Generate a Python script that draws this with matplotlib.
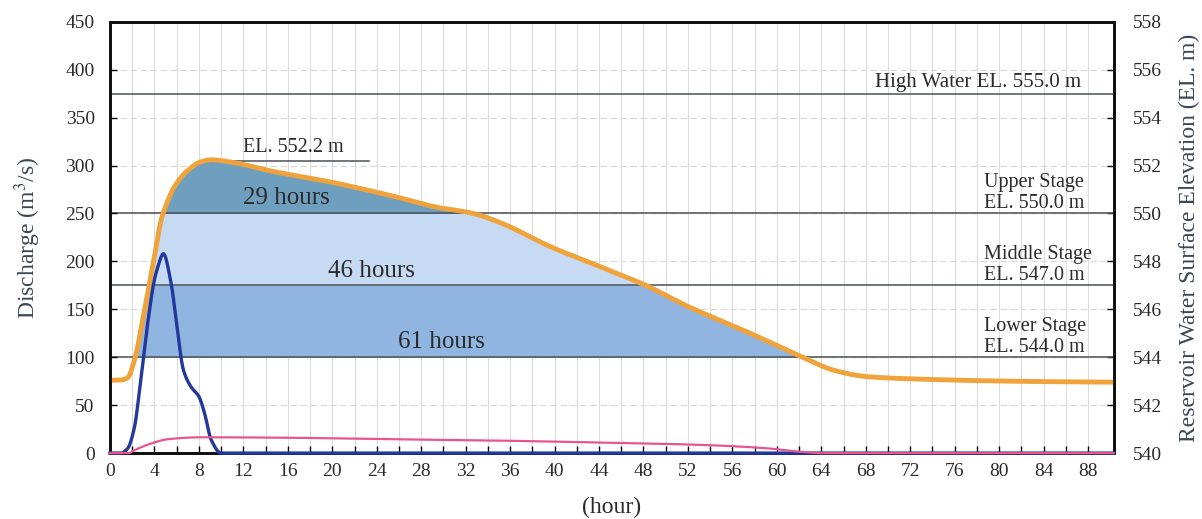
import numpy as np
import matplotlib
matplotlib.use("Agg")
import matplotlib.pyplot as plt

plt.rcParams['font.family'] = ['Liberation Serif', 'DejaVu Serif']
plt.rcParams['mathtext.fontset'] = 'stix'

# inflow discharge (m3/s)
t_in = [0, 1.0, 1.6, 2.2, 2.8, 3.4, 4.0, 4.3, 4.8, 5.5, 6.1, 6.6, 7.3, 8.0, 8.5, 9.1, 10.0, 90.3]
q_in = [0, 0, 5, 27, 80, 136, 181, 194, 208, 177, 125, 87, 69, 59, 42, 14, 0, 0]

# outflow discharge (m3/s)
t_out = [0, 1.7, 2.2, 3.0, 3.7, 5.2, 8.2, 16, 26.2, 35, 44.1, 53.1, 59.1, 62.0, 64.0, 90.3]
q_out = [0, 0, 3, 7, 10, 14.5, 16.5, 16, 14.3, 13, 11, 8.6, 5, 1.5, 0, 0]

# reservoir water surface elevation (EL. m)
t_el = [0, 1.0, 1.6, 2.2, 3.1, 4.0, 4.6, 4.9, 5.8, 7.0, 8.2, 9.1, 11.2, 14.2, 20.2, 26.2,
        29.2, 32.7, 35.2, 39.7, 44.0, 48.2, 52.0, 57.6, 60.6, 62.5, 65.1, 68.1, 72.6,
        78.6, 84.6, 90.3]
el = [543.04, 543.05, 543.15, 543.88, 545.96, 548.2, 549.72, 550.16, 551.12, 551.8,
      552.16, 552.24, 552.12, 551.8, 551.28, 550.64, 550.28, 550.0, 549.6, 548.6,
      547.8, 547.0, 546.12, 545.0, 544.36, 543.96, 543.46, 543.19, 543.09, 543.02,
      542.98, 542.96]

stage_levels = [550.0, 547.0, 544.0]
stage_names = ['Upper Stage', 'Middle Stage', 'Lower Stage']
stage_colors = ['#6f9fbf', '#c6daf4', '#8fb5e0']
high_water = 555.0
peak_el = 552.2


def smooth(x, y, n=3000):
    # monotone cubic (Fritsch-Carlson) through the read points, for drawing only
    x = np.asarray(x, float)
    y = np.asarray(y, float)
    h = np.diff(x)
    d = np.diff(y) / h
    m = np.zeros_like(y)
    m[0], m[-1] = d[0], d[-1]
    for i in range(1, len(x) - 1):
        if d[i - 1] * d[i] <= 0:
            m[i] = 0
        else:
            w1 = 2 * h[i] + h[i - 1]
            w2 = h[i] + 2 * h[i - 1]
            m[i] = (w1 + w2) / (w1 / d[i - 1] + w2 / d[i])
    xs = np.linspace(x[0], x[-1], n)
    k = np.clip(np.searchsorted(x, xs) - 1, 0, len(x) - 2)
    s = (xs - x[k]) / h[k]
    h00 = 2 * s**3 - 3 * s**2 + 1
    h10 = s**3 - 2 * s**2 + s
    h01 = -2 * s**3 + 3 * s**2
    h11 = s**3 - s**2
    ys = h00 * y[k] + h10 * h[k] * m[k] + h01 * y[k + 1] + h11 * h[k] * m[k + 1]
    return xs, ys


fig = plt.figure(figsize=(12.02, 5.19), dpi=100, facecolor='white')
ax2 = fig.add_axes([0.0915, 0.127, 0.835, 0.831])
ax2.yaxis.tick_right()
ax2.yaxis.set_label_position('right')
ax = fig.add_axes([0.0915, 0.127, 0.835, 0.831], sharex=ax2)
ax.patch.set_visible(False)
ax2.set_facecolor('white')

txt = '#2b2b2b'

ax.set_xlim(0, 90.3)
ax.set_ylim(0, 450)
ax2.set_ylim(540, 558)

ax2.set_xticks(np.arange(0, 90, 2), minor=True)
ax2.set_xticks(np.arange(0, 90, 4))
ax.set_yticks(np.arange(0, 451, 50))
ax2.set_yticks(np.arange(540, 559, 2))
ax2.grid(True, which='both', axis='x', color='#dcdcdc', lw=0.8)
ax2.grid(True, axis='y', color='#d8d8d8', lw=0.8, ls=(0, (6, 3)))
ax2.set_axisbelow(True)

# filled stage bands
tt, ee = smooth(t_el, el)
upper = [np.inf, stage_levels[0], stage_levels[1]]
for lvl, top, c in zip(stage_levels, upper, stage_colors):
    ax2.fill_between(tt, lvl, np.minimum(ee, top), where=ee > lvl,
                     interpolate=True, color=c, lw=0, zorder=1)

for lvl in [high_water] + stage_levels:
    ax2.axhline(lvl, color='#4a5058', lw=1.1, zorder=2)
ax2.plot([10, 23.3], [peak_el, peak_el], color='#4a5058', lw=1.1, zorder=2)

ax2.plot(tt, ee, color='#f0a33a', lw=3.5, zorder=4)

# discharge lines
xi, yi = smooth(t_in, q_in)
xo, yo = smooth(t_out, q_out)
ax.plot(xi, yi, color='#22389c', lw=2.4, zorder=3, clip_on=False)
ax.plot(xo, yo, color='#e8558e', lw=1.6, zorder=3, clip_on=False)

# annotations
ax2.text(16.5, 552.35, 'EL. 552.2 m', fontsize=14.5, color=txt, ha='center', va='bottom', zorder=5)
ax2.text(15.9, 550.65, '29 hours', fontsize=18, color=txt, ha='center', va='center', zorder=5)
ax2.text(23.5, 547.62, '46 hours', fontsize=18, color=txt, ha='center', va='center', zorder=5)
ax2.text(29.8, 544.62, '61 hours', fontsize=18, color=txt, ha='center', va='center', zorder=5)
ax2.text(87.4, 555.05, 'High Water EL. 555.0 m', fontsize=15, color=txt, ha='right', va='bottom', zorder=5)
for lvl, name in zip(stage_levels, stage_names):
    ax2.text(78.6, lvl + 0.03, f'{name}\nEL. {lvl:.1f} m', fontsize=14.5, color=txt,
             ha='left', va='bottom', linespacing=1.1, zorder=5)

# axes styling
ax2.tick_params(axis='x', which='both', direction='in', labelsize=14, labelcolor=txt,
                top=False, length=5, width=1, pad=7)
ax.tick_params(axis='x', which='both', bottom=False, labelbottom=False)
ax.tick_params(axis='y', direction='in', labelsize=14, labelcolor=txt, length=5, width=1, pad=11)
ax2.tick_params(axis='y', direction='in', labelsize=14, labelcolor=txt, length=5, width=1, pad=14)
for a in (ax, ax2):
    for s in a.spines.values():
        s.set_linewidth(2)
        s.set_color('#111111')

ax.set_ylabel('Discharge (m$^3$/s)', fontsize=17, color='#3b4756', labelpad=16)
ax2.set_xlabel('(hour)', fontsize=17, color=txt, labelpad=12)
ax2.set_ylabel('Reservoir Water Surface Elevation (EL. m)', fontsize=17, color='#3b4756', labelpad=12)

fig.savefig('out.png', dpi=100, facecolor='white')
